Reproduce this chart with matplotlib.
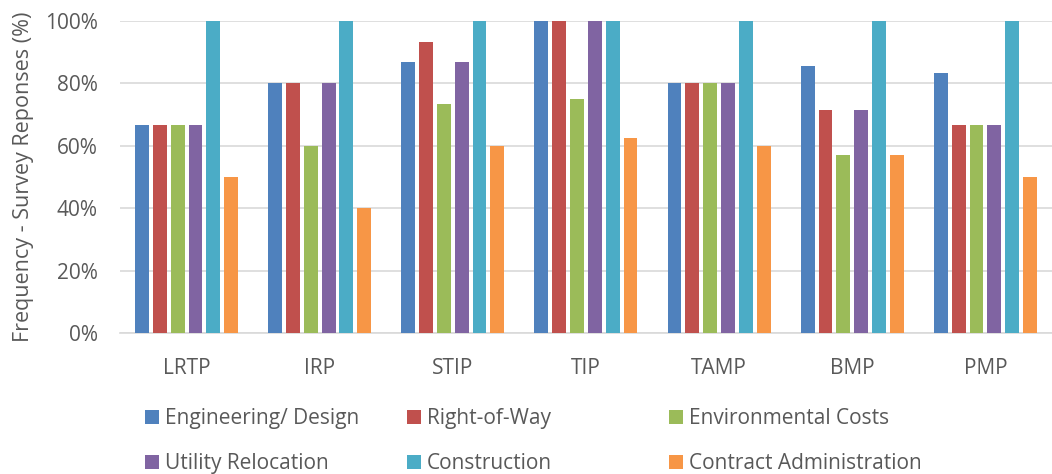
import numpy as np
import matplotlib.pyplot as plt
from matplotlib.ticker import PercentFormatter

plans = ['LRTP', 'IRP', 'STIP', 'TIP', 'TAMP', 'BMP', 'PMP']

engineering = [66.7, 80, 86.7, 100, 80, 85.7, 83.3]
right_of_way = [66.7, 80, 93.3, 100, 80, 71.4, 66.7]
environmental = [66.7, 60, 73.3, 75, 80, 57.1, 66.7]
utility = [66.7, 80, 86.7, 100, 80, 71.4, 66.7]
construction = [100, 100, 100, 100, 100, 100, 100]
contract_admin = [50, 40, 60, 62.5, 60, 57.1, 50]

series = [
    ('Engineering/ Design', engineering, '#4f81bd'),
    ('Right-of-Way', right_of_way, '#c0504d'),
    ('Environmental Costs', environmental, '#9bbb59'),
    ('Utility Relocation', utility, '#8064a2'),
    ('Construction', construction, '#4bacc6'),
    ('Contract Administration', contract_admin, '#f79646'),
]

plt.rcParams['font.family'] = ['Open Sans', 'DejaVu Sans']
grey = '#595959'

fig = plt.figure(figsize=(10.52, 4.74), dpi=100)
ax = fig.add_axes([0.114, 0.297, 0.886, 0.659])

x = np.arange(len(plans))
width = 0.104
pitch = 0.134
bars = []
for i, (name, vals, color) in enumerate(series):
    b = ax.bar(x + (i - 2.5) * pitch, vals, width, color=color, label=name, zorder=3)
    bars.append(b)

ax.set_ylim(0, 100)
ax.set_xlim(-0.5, len(plans) - 0.5)
ax.set_yticks(range(0, 101, 20))
ax.yaxis.set_major_formatter(PercentFormatter(decimals=0))
ax.set_xticks(x)
ax.set_xticklabels(plans)
ax.tick_params(axis='both', length=0, labelsize=15, colors=grey)
ax.tick_params(axis='x', pad=18)
ax.tick_params(axis='y', pad=16)
ax.grid(axis='y', color='#d9d9d9', linewidth=1.2, zorder=0)
for s in ['top', 'right', 'left']:
    ax.spines[s].set_visible(False)
ax.spines['bottom'].set_color('#d9d9d9')
ax.spines['bottom'].set_linewidth(1.2)
ax.set_ylabel('Frequency - Survey Reponses (%)', fontsize=15.5, color=grey, labelpad=8)

# legend laid out row by row, one legend per column
col_x = [145, 407, 669]
for c in range(3):
    hs = [bars[c], bars[c + 3]]
    ls = [series[c][0], series[c + 3][0]]
    leg = fig.legend(hs, ls, loc='upper left',
                     bbox_to_anchor=(col_x[c] / 1052, 1 - 408 / 474),
                     bbox_transform=fig.transFigure, frameon=False,
                     fontsize=15, handlelength=0.67, handleheight=0.67,
                     handletextpad=0.3, labelspacing=1.15, borderpad=0,
                     borderaxespad=0, labelcolor=grey)

fig.savefig('out.png', dpi=100)
